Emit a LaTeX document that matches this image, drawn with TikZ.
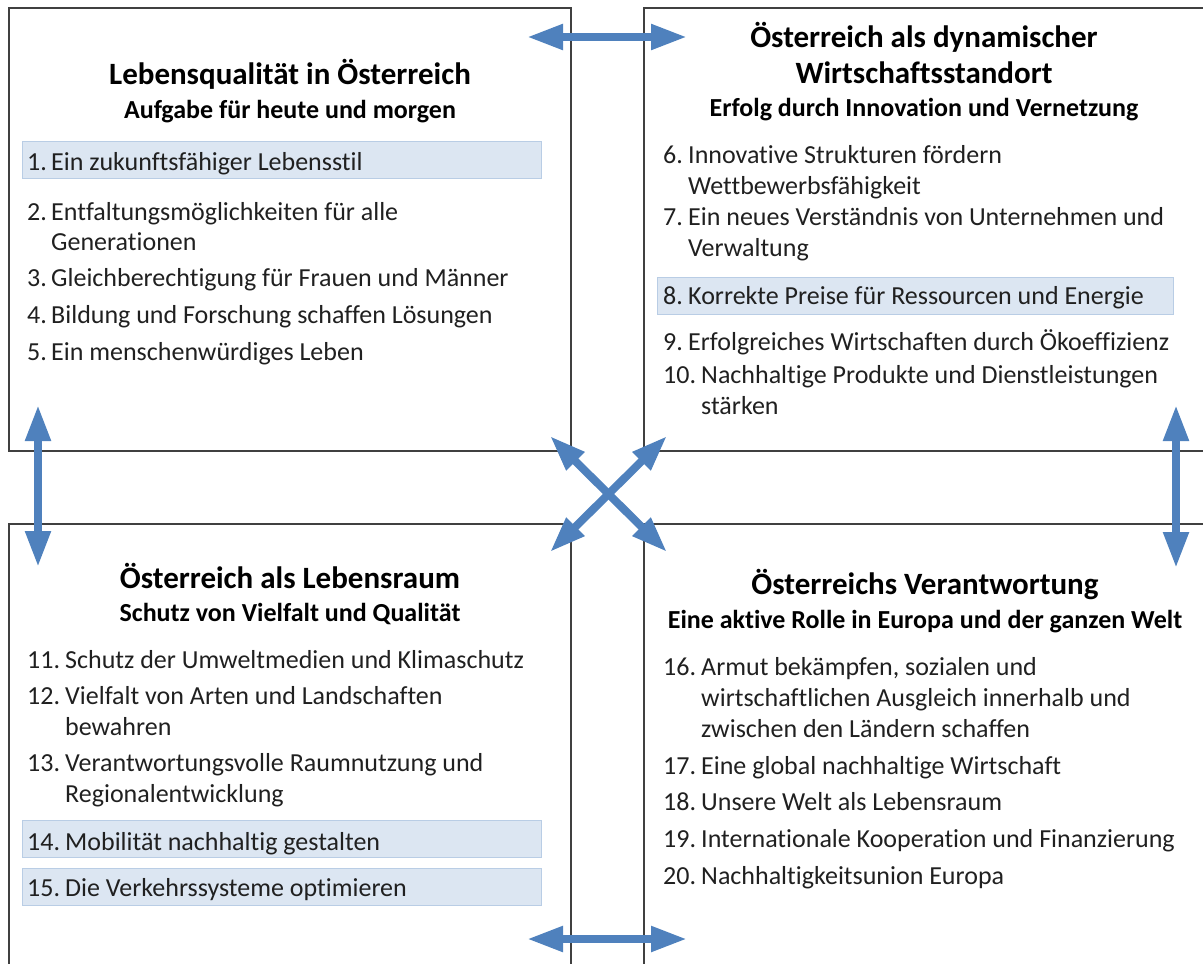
\documentclass[tikz,border=0pt]{standalone}
\usepackage{fontspec}
\setmainfont{Carlito}[Ligatures=NoCommon]
\usetikzlibrary{arrows.meta}
\definecolor{framegray}{HTML}{404040}
\definecolor{arrowblue}{HTML}{4F81BD}
\definecolor{hlfill}{HTML}{DCE6F2}
\definecolor{hlline}{HTML}{B9CDE5}
\definecolor{txt}{HTML}{202020}

\begin{document}
\begin{tikzpicture}[x=1pt,y=-1pt,
  panel/.style={draw=framegray, line width=1.3pt},
  title/.style={anchor=base, inner sep=0pt, font=\fontsize{31}{36}\selectfont\bfseries},
  subtitle/.style={anchor=base, inner sep=0pt, font=\fontsize{26}{30}\selectfont\bfseries},
  lst/.style={anchor=base west, inner sep=0pt, font=\fontsize{26}{30}\selectfont, text=txt},
  hl/.style={draw=hlline, fill=hlfill, line width=1pt, minimum width=519pt, minimum height=37pt, inner sep=0pt},
  link/.style={draw=arrowblue, line width=8pt,
    {Triangle[length=36pt,width=24pt]}-{Triangle[length=36pt,width=24pt]}}
]
\useasboundingbox (0,0) rectangle (1203,964);
\clip (0,0) rectangle (1203,964);

% four panels (right and lower ones run past the page edge)
\draw[panel] (9,8) rectangle (571,451);
\draw[panel] (644,8) rectangle (1215,451);
\draw[panel] (9,524) rectangle (571,990);
\draw[panel] (644,524) rectangle (1215,990);

% highlighted items
\node[hl] (h1) at (281.5,159.5) {};
\node[hl, minimum width=516pt] (h8) at (915,295.5) {};
\node[hl] (h14) at (281.5,839) {};
\node[hl] (h15) at (281.5,887) {};

% --- top left panel ---
\node[title] (t1) at (290,84) {Lebensqualität in Österreich};
\node[subtitle] (s1) at (290,118) {Aufgabe für heute und morgen};
\node[lst] (n1) at (27,170) {1.};  \node[lst] (l1) at (51,170) {Ein zukunftsfähiger Lebensstil};
\node[lst] (n2) at (27,220) {2.};  \node[lst] (l2a) at (51,220) {Entfaltungsmöglichkeiten für alle};
\node[lst] (l2b) at (51,250) {Generationen};
\node[lst] (n3) at (27,286) {3.};  \node[lst] (l3) at (51,286) {Gleichberechtigung für Frauen und Männer};
\node[lst] (n4) at (27,323) {4.};  \node[lst] (l4) at (51,323) {Bildung und Forschung schaffen Lösungen};
\node[lst] (n5) at (27,360) {5.};  \node[lst] (l5) at (51,360) {Ein menschenwürdiges Leben};

% --- top right panel ---
\node[title] (t2a) at (924,47) {Österreich als dynamischer};
\node[title] (t2b) at (924,83) {Wirtschaftsstandort};
\node[subtitle] (s2) at (924,116) {Erfolg durch Innovation und Vernetzung};
\node[lst] (n6) at (663,163) {6.};  \node[lst] (l6a) at (688,163) {Innovative Strukturen fördern};
\node[lst] (l6b) at (688,194) {Wettbewerbsfähigkeit};
\node[lst] (n7) at (663,225) {7.};  \node[lst] (l7a) at (688,225) {Ein neues Verständnis von Unternehmen und};
\node[lst] (l7b) at (688,256) {Verwaltung};
\node[lst] (n8) at (663,304) {8.};  \node[lst] (l8) at (688,304) {Korrekte Preise für Ressourcen und Energie};
\node[lst] (n9) at (663,350) {9.};  \node[lst] (l9) at (688,350) {Erfolgreiches Wirtschaften durch Ökoeffizienz};
\node[lst] (n10) at (663,383) {10.}; \node[lst] (l10a) at (701,383) {Nachhaltige Produkte und Dienstleistungen};
\node[lst] (l10b) at (701,414) {stärken};

% --- bottom left panel ---
\node[title] (t3) at (290,588) {Österreich als Lebensraum};
\node[subtitle] (s3) at (290,621) {Schutz von Vielfalt und Qualität};
\node[lst] (n11) at (27,668) {11.}; \node[lst] (l11) at (65,668) {Schutz der Umweltmedien und Klimaschutz};
\node[lst] (n12) at (27,704) {12.}; \node[lst] (l12a) at (65,704) {Vielfalt von Arten und Landschaften};
\node[lst] (l12b) at (65,735) {bewahren};
\node[lst] (n13) at (27,771) {13.}; \node[lst] (l13a) at (65,771) {Verantwortungsvolle Raumnutzung und};
\node[lst] (l13b) at (65,802) {Regionalentwicklung};
\node[lst] (n14) at (27,850) {14.}; \node[lst] (l14) at (65,850) {Mobilität nachhaltig gestalten};
\node[lst] (n15) at (27,896) {15.}; \node[lst] (l15) at (65,896) {Die Verkehrssysteme optimieren};

% --- bottom right panel ---
\node[title] (t4) at (925,594) {Österreichs Verantwortung};
\node[subtitle] (s4) at (925,628) {Eine aktive Rolle in Europa und der ganzen Welt};
\node[lst] (n16) at (663,675) {16.}; \node[lst] (l16a) at (701,675) {Armut bekämpfen, sozialen und};
\node[lst] (l16b) at (701,706) {wirtschaftlichen Ausgleich innerhalb und};
\node[lst] (l16c) at (701,737) {zwischen den Ländern schaffen};
\node[lst] (n17) at (663,774) {17.}; \node[lst] (l17) at (701,774) {Eine global nachhaltige Wirtschaft};
\node[lst] (n18) at (663,810) {18.}; \node[lst] (l18) at (701,810) {Unsere Welt als Lebensraum};
\node[lst] (n19) at (663,847) {19.}; \node[lst] (l19) at (701,847) {Internationale Kooperation und Finanzierung};
\node[lst] (n20) at (663,884) {20.}; \node[lst] (l20) at (701,884) {Nachhaltigkeitsunion Europa};

% arrow end points
\coordinate (topL) at (527,37);   \coordinate (topR) at (687,37);
\coordinate (botL) at (527,939);  \coordinate (botR) at (687,939);
\coordinate (leftU) at (38,405);  \coordinate (leftD) at (38,567);
\coordinate (rightU) at (1176,405); \coordinate (rightD) at (1176,568);
\coordinate (xTL) at (550,436);   \coordinate (xBR) at (667,552);
\coordinate (xTR) at (667,436);   \coordinate (xBL) at (550,552);

% connecting arrows
\draw[link] (topL) -- (topR);
\draw[link] (botL) -- (botR);
\draw[link] (leftU) -- (leftD);
\draw[link] (rightU) -- (rightD);
\draw[link] (xTL) -- (xBR);
\draw[link] (xTR) -- (xBL);
\end{tikzpicture}
\end{document}
